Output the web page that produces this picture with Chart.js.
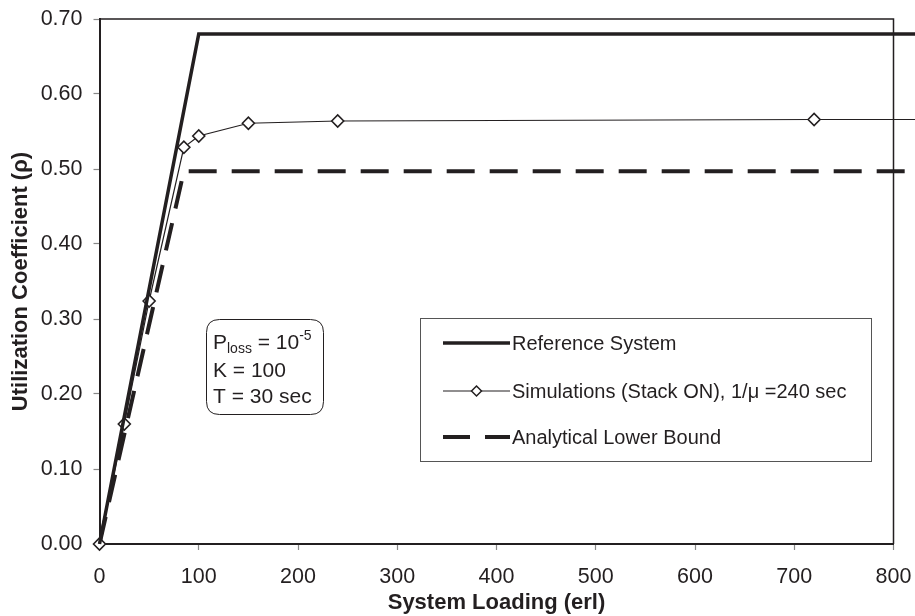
<!DOCTYPE html>
<html>
<head>
<meta charset="utf-8">
<script src="https://cdn.jsdelivr.net/npm/chart.js@4/dist/chart.umd.min.js"></script>
<style>
  html, body { margin: 0; padding: 0; background: #ffffff; }
  #wrap { width: 915px; height: 616px; position: relative; }
</style>
</head>
<body>
<div id="wrap"><canvas id="c" width="915" height="616"></canvas></div>
<script>
// ---- Data ----
const refX = [0, 100, 825];
const refY = [0, 0.68, 0.68];
const simX = [0, 25, 50, 85, 100, 150, 240, 720, 825];
const simY = [0, 0.16, 0.324, 0.529, 0.544, 0.561, 0.564, 0.566, 0.566];
const lowX = [0, 85, 825];
const lowY = [0, 0.497, 0.497];
const seriesLabels = ['Reference System', 'Simulations (Stack ON), 1/\u03BC =240 sec', 'Analytical Lower Bound'];
const xTicks = [0, 100, 200, 300, 400, 500, 600, 700, 800];
const yTicks = [0, 0.1, 0.2, 0.3, 0.4, 0.5, 0.6, 0.7];
const noteLines = ['K = 100', 'T = 30 sec'];

const INK = '#231f20';
const FONT = '"Liberation Sans", Arial, sans-serif';

function pts(xs, ys) { return xs.map((x, i) => ({ x: x, y: ys[i] })); }

const framePlugin = {
  id: 'frameAndNotes',
  afterDatasetsDraw(chart) {
    const ctx = chart.ctx;
    const a = chart.chartArea;
    ctx.save();
    // top & right frame
    ctx.strokeStyle = INK;
    ctx.lineWidth = 1.5;
    ctx.beginPath();
    ctx.moveTo(a.left, a.top);
    ctx.lineTo(a.right, a.top);
    ctx.lineTo(a.right, a.bottom);
    ctx.stroke();

    // ---- legend box ----
    const ds = chart.data.datasets;
    ctx.fillStyle = '#ffffff';
    ctx.fillRect(421, 319, 451, 143);
    ctx.strokeStyle = '#555555';
    ctx.lineWidth = 1;
    ctx.strokeRect(420.5, 318.5, 451, 143);
    const rows = [343, 391, 437];
    const x0 = 443, x1 = 510;
    ctx.font = '20px ' + FONT;
    ctx.textBaseline = 'middle';
    ctx.textAlign = 'left';
    rows.forEach((y, i) => {
      const d = ds[i];
      ctx.strokeStyle = d.borderColor;
      ctx.lineWidth = d.borderWidth;
      ctx.setLineDash([]);
      ctx.lineCap = 'butt';
      if (i === 2) {
        ctx.beginPath(); ctx.moveTo(x0, y); ctx.lineTo(x0 + 27, y); ctx.stroke();
        ctx.beginPath(); ctx.moveTo(x0 + 42, y); ctx.lineTo(x1, y); ctx.stroke();
      } else {
        ctx.beginPath(); ctx.moveTo(x0, y); ctx.lineTo(x1, y); ctx.stroke();
      }
      if (i === 1) {
        const cx = (x0 + x1) / 2, r = 5;
        ctx.fillStyle = '#ffffff';
        ctx.lineWidth = 1.5;
        ctx.beginPath();
        ctx.moveTo(cx, y - r); ctx.lineTo(cx + r, y); ctx.lineTo(cx, y + r); ctx.lineTo(cx - r, y); ctx.closePath();
        ctx.fill(); ctx.stroke();
      }
      ctx.fillStyle = INK;
      ctx.fillText(d.label, x1 + 2, y + 1);
    });

    // ---- note box ----
    const bx = 206.5, by = 319.5, bw = 117, bh = 95, r = 13;
    ctx.strokeStyle = INK;
    ctx.lineWidth = 1;
    ctx.beginPath();
    ctx.moveTo(bx + r, by);
    ctx.lineTo(bx + bw - r, by);
    ctx.quadraticCurveTo(bx + bw, by, bx + bw, by + r);
    ctx.lineTo(bx + bw, by + bh - r);
    ctx.quadraticCurveTo(bx + bw, by + bh, bx + bw - r, by + bh);
    ctx.lineTo(bx + r, by + bh);
    ctx.quadraticCurveTo(bx, by + bh, bx, by + bh - r);
    ctx.lineTo(bx, by + r);
    ctx.quadraticCurveTo(bx, by, bx + r, by);
    ctx.closePath();
    ctx.fillStyle = '#ffffff';
    ctx.fill();
    ctx.stroke();

    ctx.fillStyle = INK;
    ctx.textBaseline = 'alphabetic';
    let tx = 213;
    const base1 = 349;
    ctx.font = '21px ' + FONT;
    ctx.fillText('P', tx, base1); tx += ctx.measureText('P').width;
    ctx.font = '14px ' + FONT;
    ctx.fillText('loss', tx, base1 + 4); tx += ctx.measureText('loss').width;
    ctx.font = '21px ' + FONT;
    ctx.fillText(' = 10', tx, base1); tx += ctx.measureText(' = 10').width;
    ctx.font = '14px ' + FONT;
    ctx.fillText('-5', tx, base1 - 9);
    ctx.font = '21px ' + FONT;
    ctx.fillText(noteLines[0], 213, 377);
    ctx.fillText(noteLines[1], 213, 403);
    ctx.restore();
  }
};

new Chart(document.getElementById('c'), {
  type: 'scatter',
  data: {
    datasets: [
      {
        label: seriesLabels[0],
        data: pts(refX, refY),
        showLine: true,
        borderColor: INK,
        borderWidth: 3.5,
        pointRadius: 0,
        tension: 0,
        clip: false
      },
      {
        label: seriesLabels[1],
        data: pts(simX, simY),
        showLine: true,
        borderColor: INK,
        borderWidth: 1.2,
        pointStyle: 'rectRot',
        pointRadius: (c) => (c.dataIndex === simX.length - 1 ? 0 : 6),
        pointBackgroundColor: '#ffffff',
        pointBorderColor: INK,
        pointBorderWidth: 1.6,
        tension: 0,
        clip: false
      },
      {
        label: seriesLabels[2],
        data: pts(lowX, lowY),
        showLine: true,
        borderColor: INK,
        borderWidth: 4,
        borderDash: [28, 15],
        borderCapStyle: 'butt',
        pointRadius: 0,
        tension: 0,
        clip: false
      }
    ]
  },
  options: {
    responsive: false,
    animation: false,
    events: [],
    layout: { padding: { top: 19, right: 21.5, left: 0, bottom: 0 } },
    plugins: {
      legend: { display: false },
      tooltip: { enabled: false }
    },
    scales: {
      x: {
        type: 'linear',
        min: 0, max: 800,
        afterBuildTicks: (s) => { s.ticks = xTicks.map(v => ({ value: v })); },
        afterFit: (s) => { s.height = 72; s.paddingLeft = 0; s.paddingRight = 0; },
        ticks: {
          color: INK,
          font: { family: FONT, size: 21.5 },
          padding: 14,
          maxRotation: 0,
          callback: (v) => String(v)
        },
        grid: { drawOnChartArea: false, drawTicks: true, tickLength: 6, tickColor: '#888888', tickWidth: 1.2 },
        border: { display: true, color: INK, width: 2 },
        title: {
          display: true,
          text: 'System Loading (erl)',
          color: INK,
          font: { family: FONT, size: 22, weight: 'bold' },
          padding: { top: 0, bottom: 0 }
        }
      },
      y: {
        type: 'linear',
        min: 0, max: 0.7,
        afterBuildTicks: (s) => { s.ticks = yTicks.map(v => ({ value: v })); },
        afterFit: (s) => { s.width = 99.5; s.paddingTop = 0; s.paddingBottom = 0; },
        ticks: {
          color: INK,
          font: { family: FONT, size: 21.5 },
          padding: 11,
          callback: (v) => Number(v).toFixed(2)
        },
        grid: { drawOnChartArea: false, drawTicks: true, tickLength: 6, tickColor: '#888888', tickWidth: 1.2 },
        border: { display: true, color: INK, width: 2 },
        title: {
          display: true,
          text: 'Utilization Coefficient (\u03C1)',
          color: INK,
          font: { family: FONT, size: 22, weight: 'bold' },
          padding: { top: 8, bottom: 0 }
        }
      }
    }
  },
  plugins: [framePlugin]
});
</script>
</body>
</html>
